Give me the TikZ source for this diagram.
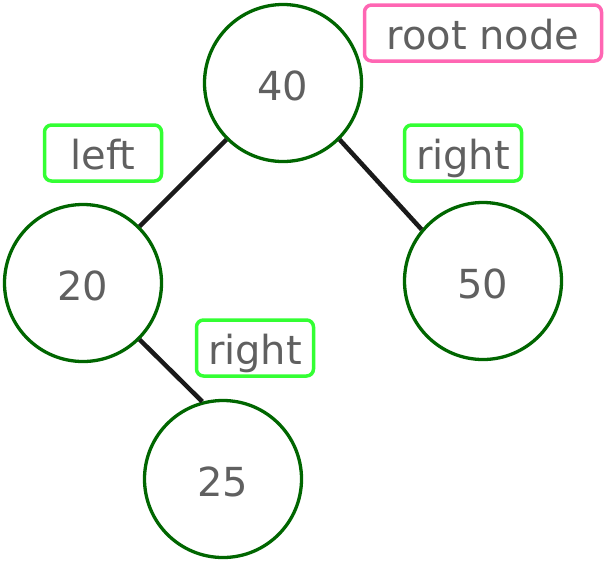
\documentclass[tikz,border=0pt]{standalone}
\usepackage{fontspec}
\setmainfont{DejaVu Sans}
\usepackage{xcolor}
\usetikzlibrary{positioning}
\definecolor{treeGreen}{RGB}{0, 102, 0}
\definecolor{labelGreen}{RGB}{51, 255, 51}
\definecolor{rootPink}{RGB}{255, 102, 179}
\definecolor{textGray}{RGB}{96, 96, 96}
\definecolor{edgeBlack}{RGB}{26, 26, 26}

\begin{document}
\begin{tikzpicture}[
  x=1pt, y=-1pt,
  keynode/.style={
    circle, draw=treeGreen, line width=3.3pt, fill=white,
    minimum size=157pt, inner sep=0pt,
    text height=35pt, text depth=0pt,
    text=textGray, font=\fontsize{40}{46}\selectfont
  },
  tag/.style={
    rectangle, rounded corners=7pt, draw=labelGreen, line width=3.5pt,
    minimum width=117pt, minimum height=56pt, inner sep=0pt,
    text height=33pt, text depth=0pt,
    text=textGray, font=\fontsize{40}{46}\selectfont
  },
  edge/.style={draw=edgeBlack, line width=4.5pt}
]
\useasboundingbox (0,0) rectangle (604,560);

\node[keynode] (n40) at (283,83)  {40};
\node[keynode] (n20) at (83,283)  {20};
\node[keynode] (n50) at (483,281) {50};
\node[keynode] (n25) at (223,479) {25};

\node[tag, draw=rootPink, minimum width=237pt] (rootlbl) at (483,33) {root node};
\node[tag] (leftlbl)   at (103,153) {left};
\node[tag] (rightlbl)  at (463,153) {right};
\node[tag] (rightlbl2) at (255,348) {right};

\draw[edge] (n40.-135) -- (n20.45);
\draw[edge] (n40.-45) -- (n50.140);
\draw[edge] (n20.-45) -- (n25.105);
\end{tikzpicture}
\end{document}
